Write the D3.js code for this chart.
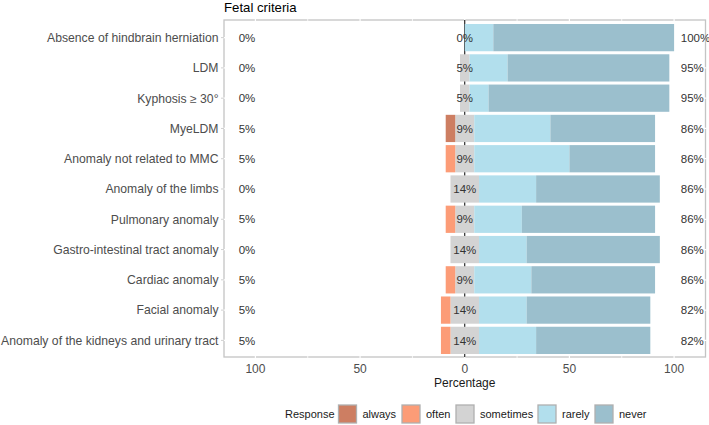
<!DOCTYPE html>
<html>
<head>
<meta charset="utf-8">
<script src="https://cdn.jsdelivr.net/npm/d3@7"></script>
<style>
  body { margin: 0; background: #fff; }
  svg { display: block; font-family: "Liberation Sans", Arial, sans-serif; }
</style>
</head>
<body>
<svg id="chart" width="709" height="425"></svg>
<script>
// ---- data (percent of respondents, N = 22) ----
const categories = [
  "Absence of hindbrain herniation",
  "LDM",
  "Kyphosis \u2265 30\u00b0",
  "MyeLDM",
  "Anomaly not related to MMC",
  "Anomaly of the limbs",
  "Pulmonary anomaly",
  "Gastro-intestinal tract anomaly",
  "Cardiac anomaly",
  "Facial anomaly",
  "Anomaly of the kidneys and urinary tract"
];
const responses = ["always", "often", "sometimes", "rarely", "never"];
const always    = [0, 0, 0, 4.55, 0, 0, 0, 0, 0, 0, 0];
const often     = [0, 0, 0, 0, 4.55, 0, 4.55, 0, 4.55, 4.55, 4.55];
const sometimes = [0, 4.55, 4.55, 9.09, 9.09, 13.64, 9.09, 13.64, 9.09, 13.64, 13.64];
const rarely    = [13.64, 18.18, 9.09, 36.36, 45.45, 27.27, 22.73, 22.73, 27.27, 22.73, 27.27];
const never     = [86.36, 77.27, 86.36, 50.0, 40.91, 59.09, 63.64, 63.64, 59.09, 59.09, 54.55];
const leftLabels   = ["0%", "0%", "0%", "5%", "5%", "0%", "5%", "0%", "5%", "5%", "5%"];
const centerLabels = ["0%", "5%", "5%", "9%", "9%", "14%", "9%", "14%", "9%", "14%", "14%"];
const rightLabels  = ["100%", "95%", "95%", "86%", "86%", "86%", "86%", "86%", "86%", "82%", "82%"];
const xTicks = [-100, -50, 0, 50, 100];
const colors = ["#CD7E62", "#FC9C77", "#D3D3D3", "#B2DFED", "#9BBFCD"];
const title = "Fetal criteria";
const xTitle = "Percentage";
const legendTitle = "Response";

// ---- layout ----
const svg = d3.select("#chart");
const panel = { left: 224, right: 705.5, top: 20, bottom: 357 };

const x = d3.scaleLinear().domain([-115, 115]).range([panel.left, panel.right]);
const y = d3.scaleBand().domain(categories).range([24, 354]).paddingInner(0.1).paddingOuter(0);
const color = d3.scaleOrdinal().domain(responses).range(colors);

// Build segments: neutral split around zero
const rows = categories.map((c, i) => {
  const v = { always: always[i], often: often[i], sometimes: sometimes[i], rarely: rarely[i], never: never[i] };
  const segs = [];
  const half = v.sometimes / 2;
  let pos = -half;
  segs.push({ key: "sometimes", x0: -half, x1: half });
  segs.push({ key: "often", x0: pos - v.often, x1: pos }); pos -= v.often;
  segs.push({ key: "always", x0: pos - v.always, x1: pos });
  let p = half;
  segs.push({ key: "rarely", x0: p, x1: p + v.rarely }); p += v.rarely;
  segs.push({ key: "never", x0: p, x1: p + v.never });
  return { cat: c, i, segs: segs.filter(s => s.x1 - s.x0 > 0) };
});

// panel border
svg.append("rect")
  .attr("x", panel.left).attr("y", panel.top)
  .attr("width", panel.right - panel.left).attr("height", panel.bottom - panel.top)
  .attr("fill", "#fff").attr("stroke", "#C4C4C4").attr("stroke-width", 1.3);

// white gridlines (cutting the border slightly)
const grid = svg.append("g");
d3.range(-100, 101, 25).forEach(t => {
  grid.append("line")
    .attr("x1", x(t)).attr("x2", x(t))
    .attr("y1", panel.top - 1).attr("y2", panel.bottom + 1)
    .attr("stroke", "#fff").attr("stroke-width", t % 50 === 0 ? 1.2 : 0.8);
});
categories.forEach(c => {
  grid.append("line")
    .attr("x1", panel.left - 1).attr("x2", panel.right + 1)
    .attr("y1", y(c) + y.bandwidth() / 2).attr("y2", y(c) + y.bandwidth() / 2)
    .attr("stroke", "#fff").attr("stroke-width", 1.2);
});

// zero line
svg.append("line")
  .attr("x1", x(0)).attr("x2", x(0))
  .attr("y1", panel.top).attr("y2", panel.bottom)
  .attr("stroke", "#000").attr("stroke-width", 1);

// bars
const gRows = svg.append("g").selectAll("g").data(rows).join("g");
gRows.selectAll("rect").data(d => d.segs.map(s => ({ ...s, cat: d.cat }))).join("rect")
  .attr("x", s => x(s.x0))
  .attr("width", s => x(s.x1) - x(s.x0))
  .attr("y", s => y(s.cat))
  .attr("height", y.bandwidth())
  .attr("fill", s => color(s.key));

// percentage labels
const lblSize = 11.5;
const labG = svg.append("g").attr("font-size", lblSize).attr("fill", "#333");
categories.forEach((c, i) => {
  const cy = y(c) + y.bandwidth() / 2;
  labG.append("text").attr("x", x(-108)).attr("y", cy).attr("dy", "0.36em")
    .attr("text-anchor", "start").text(leftLabels[i]);
  labG.append("text").attr("x", x(0)).attr("y", cy).attr("dy", "0.36em")
    .attr("text-anchor", "middle").text(centerLabels[i]);
  labG.append("text").attr("x", x(103.2)).attr("y", cy).attr("dy", "0.36em")
    .attr("text-anchor", "start").text(rightLabels[i]);
});

// y axis labels and ticks
const yAx = svg.append("g");
categories.forEach(c => {
  const cy = y(c) + y.bandwidth() / 2;
  yAx.append("line").attr("x1", panel.left - 3).attr("x2", panel.left)
    .attr("y1", cy).attr("y2", cy).attr("stroke", "#D0D0D0").attr("stroke-width", 1);
  yAx.append("text").attr("x", panel.left - 5.5).attr("y", cy).attr("dy", "0.36em")
    .attr("text-anchor", "end").attr("font-size", 12.2).attr("fill", "#4D4D4D").text(c);
});

// x axis
const xAx = svg.append("g");
xTicks.forEach(t => {
  xAx.append("text").attr("x", x(t)).attr("y", 369).attr("dy", "0.36em")
    .attr("text-anchor", "middle").attr("font-size", 12).attr("fill", "#4D4D4D")
    .text(Math.abs(t));
});
svg.append("text").attr("x", x(0)).attr("y", 383).attr("dy", "0.36em")
  .attr("text-anchor", "middle").attr("font-size", 12).attr("fill", "#1a1a1a").text(xTitle);

// title
svg.append("text").attr("x", panel.left).attr("y", 12)
  .attr("font-size", 13.2).attr("fill", "#000").text(title);

// legend
const leg = svg.append("g").attr("transform", "translate(0,414)");
leg.append("text").attr("x", 285).attr("y", 0).attr("dy", "0.36em")
  .attr("font-size", 11).attr("fill", "#1a1a1a").text(legendTitle);
const keyX = [338.5, 402, 456, 538, 595];
responses.forEach((r, i) => {
  leg.append("rect").attr("x", keyX[i]).attr("y", -9).attr("width", 18).attr("height", 18)
    .attr("fill", color(r)).attr("stroke", "#B0B0B0").attr("stroke-width", 1.3);
  leg.append("text").attr("x", keyX[i] + 24).attr("y", 0).attr("dy", "0.36em")
    .attr("font-size", 11).attr("fill", "#1a1a1a").text(r);
});
</script>
</body>
</html>
